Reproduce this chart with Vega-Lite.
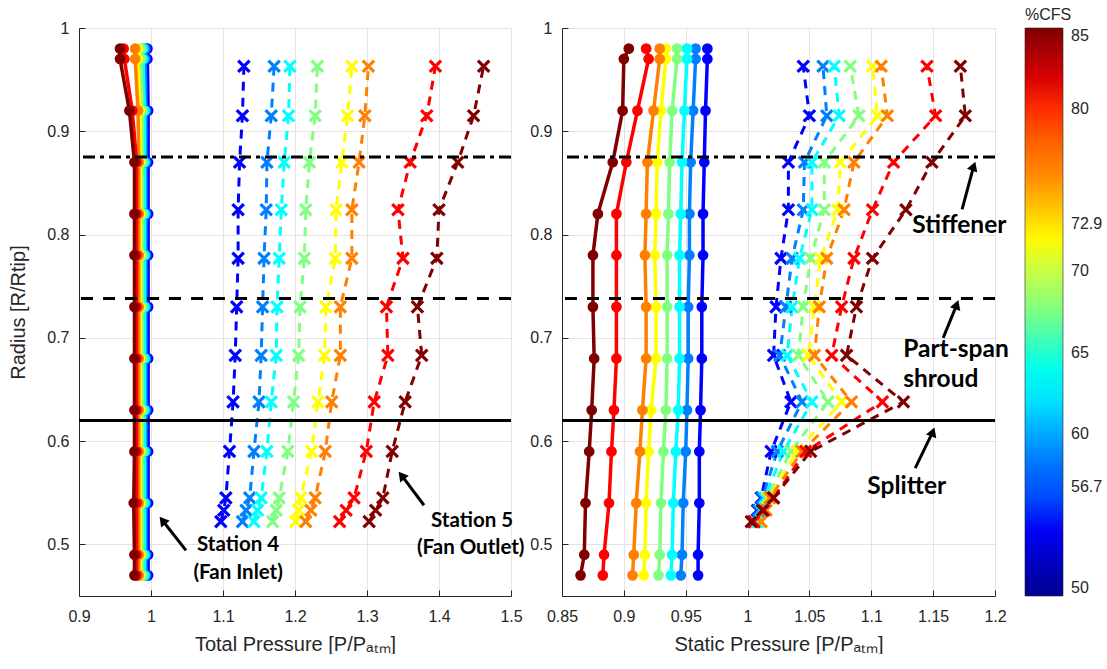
{
  "$schema": "https://vega.github.io/schema/vega-lite/v6.json",
  "padding": {"left": 8, "top": 7, "right": 0, "bottom": 0},
  "background": "white",
  "bounds": "flush",
  "spacing": 51,
  "config": {
    "view": {"stroke": null},
    "axis": {
      "domainColor": "#262626", "domainWidth": 1, "tickColor": "#262626", "tickSize": -6,
      "labelFont": "Liberation Sans", "labelFontSize": 16, "labelColor": "#262626",
      "titleFont": "Liberation Sans", "titleFontSize": 20, "titleColor": "#262626", "titleFontWeight": "normal",
      "gridColor": "#e3e3e3", "gridWidth": 1, "labelOverlap": false, "labelFlush": false
    },
    "axisX": {"labelPadding": 18, "titlePadding": 10},
    "axisY": {"labelPadding": 16}
  },
  "datasets": {
    "left": [
      {"c":50,"s":4,"r":0.98,"p":0.995},{"c":50,"s":4,"r":0.97,"p":0.995},{"c":50,"s":4,"r":0.92,"p":0.996},{"c":50,"s":4,"r":0.87,"p":0.996},{"c":50,"s":4,"r":0.82,"p":0.996},{"c":50,"s":4,"r":0.78,"p":0.996},{"c":50,"s":4,"r":0.73,"p":0.996},{"c":50,"s":4,"r":0.68,"p":0.996},{"c":50,"s":4,"r":0.63,"p":0.996},{"c":50,"s":4,"r":0.59,"p":0.996},{"c":50,"s":4,"r":0.54,"p":0.996},{"c":50,"s":4,"r":0.49,"p":0.996},{"c":50,"s":4,"r":0.47,"p":0.996},
      {"c":56.7,"s":4,"r":0.98,"p":0.992},{"c":56.7,"s":4,"r":0.97,"p":0.992},{"c":56.7,"s":4,"r":0.92,"p":0.993},{"c":56.7,"s":4,"r":0.87,"p":0.993},{"c":56.7,"s":4,"r":0.82,"p":0.993},{"c":56.7,"s":4,"r":0.78,"p":0.993},{"c":56.7,"s":4,"r":0.73,"p":0.993},{"c":56.7,"s":4,"r":0.68,"p":0.993},{"c":56.7,"s":4,"r":0.63,"p":0.993},{"c":56.7,"s":4,"r":0.59,"p":0.993},{"c":56.7,"s":4,"r":0.54,"p":0.993},{"c":56.7,"s":4,"r":0.49,"p":0.993},{"c":56.7,"s":4,"r":0.47,"p":0.993},
      {"c":60,"s":4,"r":0.98,"p":0.989},{"c":60,"s":4,"r":0.97,"p":0.989},{"c":60,"s":4,"r":0.92,"p":0.991},{"c":60,"s":4,"r":0.87,"p":0.991},{"c":60,"s":4,"r":0.82,"p":0.991},{"c":60,"s":4,"r":0.78,"p":0.991},{"c":60,"s":4,"r":0.73,"p":0.991},{"c":60,"s":4,"r":0.68,"p":0.991},{"c":60,"s":4,"r":0.63,"p":0.991},{"c":60,"s":4,"r":0.59,"p":0.991},{"c":60,"s":4,"r":0.54,"p":0.991},{"c":60,"s":4,"r":0.49,"p":0.991},{"c":60,"s":4,"r":0.47,"p":0.991},
      {"c":65,"s":4,"r":0.98,"p":0.986},{"c":65,"s":4,"r":0.97,"p":0.986},{"c":65,"s":4,"r":0.92,"p":0.988},{"c":65,"s":4,"r":0.87,"p":0.988},{"c":65,"s":4,"r":0.82,"p":0.988},{"c":65,"s":4,"r":0.78,"p":0.988},{"c":65,"s":4,"r":0.73,"p":0.988},{"c":65,"s":4,"r":0.68,"p":0.988},{"c":65,"s":4,"r":0.63,"p":0.988},{"c":65,"s":4,"r":0.59,"p":0.988},{"c":65,"s":4,"r":0.54,"p":0.988},{"c":65,"s":4,"r":0.49,"p":0.988},{"c":65,"s":4,"r":0.47,"p":0.988},
      {"c":70,"s":4,"r":0.98,"p":0.982},{"c":70,"s":4,"r":0.97,"p":0.982},{"c":70,"s":4,"r":0.92,"p":0.985},{"c":70,"s":4,"r":0.87,"p":0.985},{"c":70,"s":4,"r":0.82,"p":0.985},{"c":70,"s":4,"r":0.78,"p":0.985},{"c":70,"s":4,"r":0.73,"p":0.985},{"c":70,"s":4,"r":0.68,"p":0.985},{"c":70,"s":4,"r":0.63,"p":0.985},{"c":70,"s":4,"r":0.59,"p":0.985},{"c":70,"s":4,"r":0.54,"p":0.985},{"c":70,"s":4,"r":0.49,"p":0.985},{"c":70,"s":4,"r":0.47,"p":0.985},
      {"c":72.9,"s":4,"r":0.98,"p":0.978},{"c":72.9,"s":4,"r":0.97,"p":0.978},{"c":72.9,"s":4,"r":0.92,"p":0.982},{"c":72.9,"s":4,"r":0.87,"p":0.983},{"c":72.9,"s":4,"r":0.82,"p":0.983},{"c":72.9,"s":4,"r":0.78,"p":0.983},{"c":72.9,"s":4,"r":0.73,"p":0.983},{"c":72.9,"s":4,"r":0.68,"p":0.983},{"c":72.9,"s":4,"r":0.63,"p":0.983},{"c":72.9,"s":4,"r":0.59,"p":0.983},{"c":72.9,"s":4,"r":0.54,"p":0.983},{"c":72.9,"s":4,"r":0.49,"p":0.983},{"c":72.9,"s":4,"r":0.47,"p":0.983},
      {"c":80,"s":4,"r":0.98,"p":0.962},{"c":80,"s":4,"r":0.97,"p":0.963},{"c":80,"s":4,"r":0.92,"p":0.974},{"c":80,"s":4,"r":0.87,"p":0.98},{"c":80,"s":4,"r":0.82,"p":0.98},{"c":80,"s":4,"r":0.78,"p":0.98},{"c":80,"s":4,"r":0.73,"p":0.98},{"c":80,"s":4,"r":0.68,"p":0.98},{"c":80,"s":4,"r":0.63,"p":0.98},{"c":80,"s":4,"r":0.59,"p":0.98},{"c":80,"s":4,"r":0.54,"p":0.98},{"c":80,"s":4,"r":0.49,"p":0.98},{"c":80,"s":4,"r":0.47,"p":0.98},
      {"c":85,"s":4,"r":0.98,"p":0.957},{"c":85,"s":4,"r":0.97,"p":0.957},{"c":85,"s":4,"r":0.92,"p":0.97},{"c":85,"s":4,"r":0.87,"p":0.977},{"c":85,"s":4,"r":0.82,"p":0.977},{"c":85,"s":4,"r":0.78,"p":0.977},{"c":85,"s":4,"r":0.73,"p":0.977},{"c":85,"s":4,"r":0.68,"p":0.977},{"c":85,"s":4,"r":0.63,"p":0.977},{"c":85,"s":4,"r":0.59,"p":0.977},{"c":85,"s":4,"r":0.54,"p":0.976},{"c":85,"s":4,"r":0.49,"p":0.977},{"c":85,"s":4,"r":0.47,"p":0.977},
      {"c":50,"s":5,"r":0.963,"p":1.129},{"c":50,"s":5,"r":0.915,"p":1.127},{"c":50,"s":5,"r":0.87,"p":1.123},{"c":50,"s":5,"r":0.824,"p":1.121},{"c":50,"s":5,"r":0.777,"p":1.121},{"c":50,"s":5,"r":0.73,"p":1.119},{"c":50,"s":5,"r":0.683,"p":1.117},{"c":50,"s":5,"r":0.638,"p":1.114},{"c":50,"s":5,"r":0.59,"p":1.109},{"c":50,"s":5,"r":0.545,"p":1.104},{"c":50,"s":5,"r":0.533,"p":1.101},{"c":50,"s":5,"r":0.522,"p":1.097},
      {"c":56.7,"s":5,"r":0.963,"p":1.171},{"c":56.7,"s":5,"r":0.915,"p":1.167},{"c":56.7,"s":5,"r":0.87,"p":1.161},{"c":56.7,"s":5,"r":0.824,"p":1.16},{"c":56.7,"s":5,"r":0.777,"p":1.157},{"c":56.7,"s":5,"r":0.73,"p":1.155},{"c":56.7,"s":5,"r":0.683,"p":1.153},{"c":56.7,"s":5,"r":0.638,"p":1.15},{"c":56.7,"s":5,"r":0.59,"p":1.143},{"c":56.7,"s":5,"r":0.545,"p":1.137},{"c":56.7,"s":5,"r":0.533,"p":1.132},{"c":56.7,"s":5,"r":0.522,"p":1.127},
      {"c":60,"s":5,"r":0.963,"p":1.193},{"c":60,"s":5,"r":0.915,"p":1.191},{"c":60,"s":5,"r":0.87,"p":1.185},{"c":60,"s":5,"r":0.824,"p":1.181},{"c":60,"s":5,"r":0.777,"p":1.178},{"c":60,"s":5,"r":0.73,"p":1.175},{"c":60,"s":5,"r":0.683,"p":1.174},{"c":60,"s":5,"r":0.638,"p":1.167},{"c":60,"s":5,"r":0.59,"p":1.161},{"c":60,"s":5,"r":0.545,"p":1.153},{"c":60,"s":5,"r":0.533,"p":1.148},{"c":60,"s":5,"r":0.522,"p":1.143},
      {"c":65,"s":5,"r":0.963,"p":1.231},{"c":65,"s":5,"r":0.915,"p":1.228},{"c":65,"s":5,"r":0.87,"p":1.22},{"c":65,"s":5,"r":0.824,"p":1.215},{"c":65,"s":5,"r":0.777,"p":1.213},{"c":65,"s":5,"r":0.73,"p":1.207},{"c":65,"s":5,"r":0.683,"p":1.205},{"c":65,"s":5,"r":0.638,"p":1.198},{"c":65,"s":5,"r":0.59,"p":1.19},{"c":65,"s":5,"r":0.545,"p":1.178},{"c":65,"s":5,"r":0.533,"p":1.174},{"c":65,"s":5,"r":0.522,"p":1.169},
      {"c":70,"s":5,"r":0.963,"p":1.279},{"c":70,"s":5,"r":0.915,"p":1.273},{"c":70,"s":5,"r":0.87,"p":1.265},{"c":70,"s":5,"r":0.824,"p":1.257},{"c":70,"s":5,"r":0.777,"p":1.256},{"c":70,"s":5,"r":0.73,"p":1.243},{"c":70,"s":5,"r":0.683,"p":1.241},{"c":70,"s":5,"r":0.638,"p":1.232},{"c":70,"s":5,"r":0.59,"p":1.223},{"c":70,"s":5,"r":0.545,"p":1.208},{"c":70,"s":5,"r":0.533,"p":1.205},{"c":70,"s":5,"r":0.522,"p":1.201},
      {"c":72.9,"s":5,"r":0.963,"p":1.302},{"c":72.9,"s":5,"r":0.915,"p":1.297},{"c":72.9,"s":5,"r":0.87,"p":1.289},{"c":72.9,"s":5,"r":0.824,"p":1.279},{"c":72.9,"s":5,"r":0.777,"p":1.279},{"c":72.9,"s":5,"r":0.73,"p":1.263},{"c":72.9,"s":5,"r":0.683,"p":1.263},{"c":72.9,"s":5,"r":0.638,"p":1.251},{"c":72.9,"s":5,"r":0.59,"p":1.242},{"c":72.9,"s":5,"r":0.545,"p":1.228},{"c":72.9,"s":5,"r":0.533,"p":1.222},{"c":72.9,"s":5,"r":0.522,"p":1.215},
      {"c":80,"s":5,"r":0.963,"p":1.395},{"c":80,"s":5,"r":0.915,"p":1.383},{"c":80,"s":5,"r":0.87,"p":1.36},{"c":80,"s":5,"r":0.824,"p":1.343},{"c":80,"s":5,"r":0.777,"p":1.35},{"c":80,"s":5,"r":0.73,"p":1.327},{"c":80,"s":5,"r":0.683,"p":1.329},{"c":80,"s":5,"r":0.638,"p":1.31},{"c":80,"s":5,"r":0.59,"p":1.299},{"c":80,"s":5,"r":0.545,"p":1.282},{"c":80,"s":5,"r":0.533,"p":1.271},{"c":80,"s":5,"r":0.522,"p":1.262},
      {"c":85,"s":5,"r":0.963,"p":1.462},{"c":85,"s":5,"r":0.915,"p":1.448},{"c":85,"s":5,"r":0.87,"p":1.426},{"c":85,"s":5,"r":0.824,"p":1.4},{"c":85,"s":5,"r":0.777,"p":1.397},{"c":85,"s":5,"r":0.73,"p":1.37},{"c":85,"s":5,"r":0.683,"p":1.376},{"c":85,"s":5,"r":0.638,"p":1.353},{"c":85,"s":5,"r":0.59,"p":1.335},{"c":85,"s":5,"r":0.545,"p":1.322},{"c":85,"s":5,"r":0.533,"p":1.312},{"c":85,"s":5,"r":0.522,"p":1.303}
    ],
    "right": [
      {"c":50,"s":4,"r":0.98,"p":0.9675},{"c":50,"s":4,"r":0.97,"p":0.9675},{"c":50,"s":4,"r":0.92,"p":0.966},{"c":50,"s":4,"r":0.87,"p":0.965},{"c":50,"s":4,"r":0.82,"p":0.964},{"c":50,"s":4,"r":0.78,"p":0.964},{"c":50,"s":4,"r":0.73,"p":0.963},{"c":50,"s":4,"r":0.68,"p":0.963},{"c":50,"s":4,"r":0.63,"p":0.962},{"c":50,"s":4,"r":0.59,"p":0.961},{"c":50,"s":4,"r":0.54,"p":0.961},{"c":50,"s":4,"r":0.49,"p":0.96},{"c":50,"s":4,"r":0.47,"p":0.96},
      {"c":56.7,"s":4,"r":0.98,"p":0.958},{"c":56.7,"s":4,"r":0.97,"p":0.958},{"c":56.7,"s":4,"r":0.92,"p":0.956},{"c":56.7,"s":4,"r":0.87,"p":0.954},{"c":56.7,"s":4,"r":0.82,"p":0.953},{"c":56.7,"s":4,"r":0.78,"p":0.953},{"c":56.7,"s":4,"r":0.73,"p":0.952},{"c":56.7,"s":4,"r":0.68,"p":0.952},{"c":56.7,"s":4,"r":0.63,"p":0.951},{"c":56.7,"s":4,"r":0.59,"p":0.95},{"c":56.7,"s":4,"r":0.54,"p":0.948},{"c":56.7,"s":4,"r":0.49,"p":0.947},{"c":56.7,"s":4,"r":0.47,"p":0.946},
      {"c":60,"s":4,"r":0.98,"p":0.951},{"c":60,"s":4,"r":0.97,"p":0.951},{"c":60,"s":4,"r":0.92,"p":0.949},{"c":60,"s":4,"r":0.87,"p":0.947},{"c":60,"s":4,"r":0.82,"p":0.946},{"c":60,"s":4,"r":0.78,"p":0.945},{"c":60,"s":4,"r":0.73,"p":0.945},{"c":60,"s":4,"r":0.68,"p":0.945},{"c":60,"s":4,"r":0.63,"p":0.944},{"c":60,"s":4,"r":0.59,"p":0.942},{"c":60,"s":4,"r":0.54,"p":0.94},{"c":60,"s":4,"r":0.49,"p":0.939},{"c":60,"s":4,"r":0.47,"p":0.938},
      {"c":65,"s":4,"r":0.98,"p":0.943},{"c":65,"s":4,"r":0.97,"p":0.943},{"c":65,"s":4,"r":0.92,"p":0.939},{"c":65,"s":4,"r":0.87,"p":0.937},{"c":65,"s":4,"r":0.82,"p":0.936},{"c":65,"s":4,"r":0.78,"p":0.935},{"c":65,"s":4,"r":0.73,"p":0.935},{"c":65,"s":4,"r":0.68,"p":0.935},{"c":65,"s":4,"r":0.63,"p":0.934},{"c":65,"s":4,"r":0.59,"p":0.932},{"c":65,"s":4,"r":0.54,"p":0.93},{"c":65,"s":4,"r":0.49,"p":0.929},{"c":65,"s":4,"r":0.47,"p":0.928},
      {"c":70,"s":4,"r":0.98,"p":0.934},{"c":70,"s":4,"r":0.97,"p":0.934},{"c":70,"s":4,"r":0.92,"p":0.93},{"c":70,"s":4,"r":0.87,"p":0.927},{"c":70,"s":4,"r":0.82,"p":0.926},{"c":70,"s":4,"r":0.78,"p":0.925},{"c":70,"s":4,"r":0.73,"p":0.926},{"c":70,"s":4,"r":0.68,"p":0.926},{"c":70,"s":4,"r":0.63,"p":0.922},{"c":70,"s":4,"r":0.59,"p":0.92},{"c":70,"s":4,"r":0.54,"p":0.918},{"c":70,"s":4,"r":0.49,"p":0.917},{"c":70,"s":4,"r":0.47,"p":0.916},
      {"c":72.9,"s":4,"r":0.98,"p":0.929},{"c":72.9,"s":4,"r":0.97,"p":0.929},{"c":72.9,"s":4,"r":0.92,"p":0.924},{"c":72.9,"s":4,"r":0.87,"p":0.919},{"c":72.9,"s":4,"r":0.82,"p":0.918},{"c":72.9,"s":4,"r":0.78,"p":0.917},{"c":72.9,"s":4,"r":0.73,"p":0.918},{"c":72.9,"s":4,"r":0.68,"p":0.918},{"c":72.9,"s":4,"r":0.63,"p":0.915},{"c":72.9,"s":4,"r":0.59,"p":0.913},{"c":72.9,"s":4,"r":0.54,"p":0.91},{"c":72.9,"s":4,"r":0.49,"p":0.908},{"c":72.9,"s":4,"r":0.47,"p":0.907},
      {"c":80,"s":4,"r":0.98,"p":0.918},{"c":80,"s":4,"r":0.97,"p":0.92},{"c":80,"s":4,"r":0.92,"p":0.911},{"c":80,"s":4,"r":0.87,"p":0.902},{"c":80,"s":4,"r":0.82,"p":0.894},{"c":80,"s":4,"r":0.78,"p":0.894},{"c":80,"s":4,"r":0.73,"p":0.894},{"c":80,"s":4,"r":0.68,"p":0.894},{"c":80,"s":4,"r":0.63,"p":0.892},{"c":80,"s":4,"r":0.59,"p":0.89},{"c":80,"s":4,"r":0.54,"p":0.888},{"c":80,"s":4,"r":0.49,"p":0.884},{"c":80,"s":4,"r":0.47,"p":0.883},
      {"c":85,"s":4,"r":0.98,"p":0.904},{"c":85,"s":4,"r":0.97,"p":0.9},{"c":85,"s":4,"r":0.92,"p":0.899},{"c":85,"s":4,"r":0.87,"p":0.891},{"c":85,"s":4,"r":0.82,"p":0.879},{"c":85,"s":4,"r":0.78,"p":0.875},{"c":85,"s":4,"r":0.73,"p":0.875},{"c":85,"s":4,"r":0.68,"p":0.876},{"c":85,"s":4,"r":0.63,"p":0.874},{"c":85,"s":4,"r":0.59,"p":0.872},{"c":85,"s":4,"r":0.54,"p":0.869},{"c":85,"s":4,"r":0.49,"p":0.868},{"c":85,"s":4,"r":0.47,"p":0.865},
      {"c":50,"s":5,"r":0.963,"p":1.045},{"c":50,"s":5,"r":0.915,"p":1.05},{"c":50,"s":5,"r":0.87,"p":1.033},{"c":50,"s":5,"r":0.824,"p":1.033},{"c":50,"s":5,"r":0.777,"p":1.027},{"c":50,"s":5,"r":0.73,"p":1.023},{"c":50,"s":5,"r":0.683,"p":1.021},{"c":50,"s":5,"r":0.638,"p":1.035},{"c":50,"s":5,"r":0.59,"p":1.019},{"c":50,"s":5,"r":0.545,"p":1.011},{"c":50,"s":5,"r":0.533,"p":1.008},{"c":50,"s":5,"r":0.522,"p":1.005},
      {"c":56.7,"s":5,"r":0.963,"p":1.061},{"c":56.7,"s":5,"r":0.915,"p":1.064},{"c":56.7,"s":5,"r":0.87,"p":1.046},{"c":56.7,"s":5,"r":0.824,"p":1.045},{"c":56.7,"s":5,"r":0.777,"p":1.036},{"c":56.7,"s":5,"r":0.73,"p":1.031},{"c":56.7,"s":5,"r":0.683,"p":1.026},{"c":56.7,"s":5,"r":0.638,"p":1.044},{"c":56.7,"s":5,"r":0.59,"p":1.024},{"c":56.7,"s":5,"r":0.545,"p":1.012},{"c":56.7,"s":5,"r":0.533,"p":1.009},{"c":56.7,"s":5,"r":0.522,"p":1.006},
      {"c":60,"s":5,"r":0.963,"p":1.07},{"c":60,"s":5,"r":0.915,"p":1.074},{"c":60,"s":5,"r":0.87,"p":1.052},{"c":60,"s":5,"r":0.824,"p":1.052},{"c":60,"s":5,"r":0.777,"p":1.042},{"c":60,"s":5,"r":0.73,"p":1.036},{"c":60,"s":5,"r":0.683,"p":1.032},{"c":60,"s":5,"r":0.638,"p":1.052},{"c":60,"s":5,"r":0.59,"p":1.029},{"c":60,"s":5,"r":0.545,"p":1.014},{"c":60,"s":5,"r":0.533,"p":1.011},{"c":60,"s":5,"r":0.522,"p":1.008},
      {"c":65,"s":5,"r":0.963,"p":1.083},{"c":65,"s":5,"r":0.915,"p":1.09},{"c":65,"s":5,"r":0.87,"p":1.062},{"c":65,"s":5,"r":0.824,"p":1.062},{"c":65,"s":5,"r":0.777,"p":1.051},{"c":65,"s":5,"r":0.73,"p":1.045},{"c":65,"s":5,"r":0.683,"p":1.041},{"c":65,"s":5,"r":0.638,"p":1.065},{"c":65,"s":5,"r":0.59,"p":1.035},{"c":65,"s":5,"r":0.545,"p":1.016},{"c":65,"s":5,"r":0.533,"p":1.013},{"c":65,"s":5,"r":0.522,"p":1.01},
      {"c":70,"s":5,"r":0.963,"p":1.101},{"c":70,"s":5,"r":0.915,"p":1.105},{"c":70,"s":5,"r":0.87,"p":1.075},{"c":70,"s":5,"r":0.824,"p":1.073},{"c":70,"s":5,"r":0.777,"p":1.059},{"c":70,"s":5,"r":0.73,"p":1.054},{"c":70,"s":5,"r":0.683,"p":1.049},{"c":70,"s":5,"r":0.638,"p":1.076},{"c":70,"s":5,"r":0.59,"p":1.04},{"c":70,"s":5,"r":0.545,"p":1.017},{"c":70,"s":5,"r":0.533,"p":1.014},{"c":70,"s":5,"r":0.522,"p":1.011},
      {"c":72.9,"s":5,"r":0.963,"p":1.108},{"c":72.9,"s":5,"r":0.915,"p":1.113},{"c":72.9,"s":5,"r":0.87,"p":1.086},{"c":72.9,"s":5,"r":0.824,"p":1.078},{"c":72.9,"s":5,"r":0.777,"p":1.064},{"c":72.9,"s":5,"r":0.73,"p":1.058},{"c":72.9,"s":5,"r":0.683,"p":1.054},{"c":72.9,"s":5,"r":0.638,"p":1.084},{"c":72.9,"s":5,"r":0.59,"p":1.044},{"c":72.9,"s":5,"r":0.545,"p":1.018},{"c":72.9,"s":5,"r":0.533,"p":1.015},{"c":72.9,"s":5,"r":0.522,"p":1.011},
      {"c":80,"s":5,"r":0.963,"p":1.145},{"c":80,"s":5,"r":0.915,"p":1.152},{"c":80,"s":5,"r":0.87,"p":1.118},{"c":80,"s":5,"r":0.824,"p":1.101},{"c":80,"s":5,"r":0.777,"p":1.086},{"c":80,"s":5,"r":0.73,"p":1.076},{"c":80,"s":5,"r":0.683,"p":1.068},{"c":80,"s":5,"r":0.638,"p":1.109},{"c":80,"s":5,"r":0.59,"p":1.047},{"c":80,"s":5,"r":0.545,"p":1.021},{"c":80,"s":5,"r":0.533,"p":1.013},{"c":80,"s":5,"r":0.522,"p":1.005},
      {"c":85,"s":5,"r":0.963,"p":1.172},{"c":85,"s":5,"r":0.915,"p":1.176},{"c":85,"s":5,"r":0.87,"p":1.149},{"c":85,"s":5,"r":0.824,"p":1.128},{"c":85,"s":5,"r":0.777,"p":1.101},{"c":85,"s":5,"r":0.73,"p":1.088},{"c":85,"s":5,"r":0.683,"p":1.08},{"c":85,"s":5,"r":0.638,"p":1.126},{"c":85,"s":5,"r":0.59,"p":1.051},{"c":85,"s":5,"r":0.545,"p":1.021},{"c":85,"s":5,"r":0.533,"p":1.012},{"c":85,"s":5,"r":0.522,"p":1.003}
    ],
    "refs": [
      {"r":0.875,"name":"Stiffener"},
      {"r":0.738,"name":"Part-span shroud"},
      {"r":0.62,"name":"Splitter"}
    ],
    "textL": [
      {"p":1.121,"r":0.499,"t":"Station 4"},
      {"p":1.121,"r":0.472,"t":"(Fan Inlet)"},
      {"p":1.446,"r":0.523,"t":"Station 5"},
      {"p":1.444,"r":0.496,"t":"(Fan Outlet)"}
    ],
    "arrowL": [
      {"p":1.0486,"r":0.4942,"p2":1.016,"r2":0.5231},
      {"p":1.3792,"r":0.5379,"p2":1.348,"r2":0.5668}
    ],
    "textR": [
      {"p":1.1331,"r":0.8078,"t":"Stiffener"},
      {"p":1.1258,"r":0.6883,"t":"Part-span"},
      {"p":1.1258,"r":0.6592,"t":"shroud"},
      {"p":1.0968,"r":0.5553,"t":"Splitter"}
    ],
    "arrowR": [
      {"p":1.1734,"r":0.8243,"p2":1.1828,"r2":0.8662},
      {"p":1.1581,"r":0.7,"p2":1.1691,"r2":0.7322},
      {"p":1.1355,"r":0.5738,"p2":1.1497,"r2":0.6089}
    ]
  },
  "hconcat": [
    {
      "width": 432,
      "height": 568,
      "layer": [
        {
          "data": {"name": "left"},
          "transform": [{"filter": "datum.s == 4"}],
          "mark": {"type": "line", "strokeWidth": 3.5, "point": {"filled": true, "size": 115, "opacity": 1}},
          "encoding": {
            "x": {"field": "p", "type": "quantitative", "title": "Total Pressure [P/Pₐₜₘ]", "scale": {"domain": [0.9, 1.5], "nice": false, "zero": false},
                  "axis": {"values": [0.9, 1.0, 1.1, 1.2, 1.3, 1.4, 1.5], "format": ".3~g"}},
            "y": {"field": "r", "type": "quantitative", "title": "Radius [R/Rtip]", "scale": {"domain": [0.45, 1], "nice": false, "zero": false},
                  "axis": {"values": [0.5, 0.6, 0.7, 0.8, 0.9, 1.0], "format": ".3~g", "titlePadding": 18}},
            "color": {"field": "c", "type": "ordinal", "legend": null,
                      "scale": {"domain": [50, 56.7, 60, 65, 70, 72.9, 80, 85], "range": ["#0000ff", "#0080ff", "#00ffff", "#80ff80", "#ffff00", "#ff8000", "#ff0000", "#800000"]}},
            "order": {"field": "r", "type": "quantitative"}
          }
        },
        {
          "data": {"name": "left"},
          "transform": [{"filter": "datum.s == 5"}],
          "mark": {"type": "line", "strokeWidth": 3, "strokeDash": [9, 7], "point": {"shape": "M-1,-1L1,1M-1,1L1,-1", "filled": false, "strokeWidth": 3.2, "size": 130, "opacity": 1}},
          "encoding": {
            "x": {"field": "p", "type": "quantitative", "title": "Total Pressure [P/Pₐₜₘ]"},
            "y": {"field": "r", "type": "quantitative", "title": "Radius [R/Rtip]"},
            "color": {"field": "c", "type": "ordinal", "legend": null},
            "order": {"field": "r", "type": "quantitative"}
          }
        },
        {
          "data": {"name": "refs"},
          "transform": [{"filter": "datum.name == 'Stiffener'"}],
          "mark": {"type": "rule", "color": "black", "strokeWidth": 3, "strokeDash": [12, 5, 4, 5]},
          "encoding": {"y": {"field": "r", "type": "quantitative", "title": "Radius [R/Rtip]"}}
        },
        {
          "data": {"name": "refs"},
          "transform": [{"filter": "datum.name == 'Part-span shroud'"}],
          "mark": {"type": "rule", "color": "black", "strokeWidth": 3, "strokeDash": [12, 10]},
          "encoding": {"y": {"field": "r", "type": "quantitative", "title": "Radius [R/Rtip]"}}
        },
        {
          "data": {"name": "refs"},
          "transform": [{"filter": "datum.name == 'Splitter'"}],
          "mark": {"type": "rule", "color": "black", "strokeWidth": 3},
          "encoding": {"y": {"field": "r", "type": "quantitative", "title": "Radius [R/Rtip]"}}
        },
        {
          "data": {"name": "arrowL"},
          "mark": {"type": "rule", "color": "black", "strokeWidth": 3},
          "encoding": {
            "x": {"field": "p", "type": "quantitative", "title": "Total Pressure [P/Pₐₜₘ]"},
            "y": {"field": "r", "type": "quantitative", "title": "Radius [R/Rtip]"},
            "x2": {"field": "p2"},
            "y2": {"field": "r2"}
          }
        },
        {
          "data": {"name": "arrowL"},
          "mark": {"type": "point", "shape": "triangle-up", "filled": true, "color": "black", "opacity": 1, "size": 120, "angle": -38},
          "encoding": {
            "x": {"field": "p2", "type": "quantitative", "title": "Total Pressure [P/Pₐₜₘ]"},
            "y": {"field": "r2", "type": "quantitative", "title": "Radius [R/Rtip]"}
          }
        },
        {
          "data": {"name": "textL"},
          "mark": {"type": "text", "font": "Lato", "fontWeight": "bold", "fontSize": 20.5, "color": "black", "align": "center", "baseline": "middle"},
          "encoding": {
            "x": {"field": "p", "type": "quantitative", "title": "Total Pressure [P/Pₐₜₘ]"},
            "y": {"field": "r", "type": "quantitative", "title": "Radius [R/Rtip]"},
            "text": {"field": "t"}
          }
        }
      ]
    },
    {
      "width": 433,
      "height": 568,
      "layer": [
        {
          "data": {"name": "right"},
          "transform": [{"filter": "datum.s == 4"}],
          "mark": {"type": "line", "strokeWidth": 3.5, "point": {"filled": true, "size": 115, "opacity": 1}},
          "encoding": {
            "x": {"field": "p", "type": "quantitative", "title": "Static Pressure [P/Pₐₜₘ]", "scale": {"domain": [0.85, 1.2], "nice": false, "zero": false},
                  "axis": {"values": [0.85, 0.9, 0.95, 1.0, 1.05, 1.1, 1.15, 1.2], "format": ".3~g"}},
            "y": {"field": "r", "type": "quantitative", "title": null, "scale": {"domain": [0.45, 1], "nice": false, "zero": false},
                  "axis": {"values": [0.5, 0.6, 0.7, 0.8, 0.9, 1.0], "format": ".3~g"}},
            "color": {"field": "c", "type": "ordinal", "legend": null,
                      "scale": {"domain": [50, 56.7, 60, 65, 70, 72.9, 80, 85], "range": ["#0000ff", "#0080ff", "#00ffff", "#80ff80", "#ffff00", "#ff8000", "#ff0000", "#800000"]}},
            "order": {"field": "r", "type": "quantitative"}
          }
        },
        {
          "data": {"name": "right"},
          "transform": [{"filter": "datum.s == 5"}],
          "mark": {"type": "line", "strokeWidth": 3, "strokeDash": [9, 7], "point": {"shape": "M-1,-1L1,1M-1,1L1,-1", "filled": false, "strokeWidth": 3.2, "size": 130, "opacity": 1}},
          "encoding": {
            "x": {"field": "p", "type": "quantitative", "title": "Static Pressure [P/Pₐₜₘ]"},
            "y": {"field": "r", "type": "quantitative", "title": null},
            "color": {"field": "c", "type": "ordinal", "legend": null},
            "order": {"field": "r", "type": "quantitative"}
          }
        },
        {
          "data": {"name": "right"},
          "transform": [{"filter": "datum.s == 4"}],
          "mark": {"type": "point", "opacity": 0, "filled": true},
          "encoding": {
            "x": {"field": "p", "type": "quantitative", "title": "Static Pressure [P/Pₐₜₘ]"},
            "y": {"field": "r", "type": "quantitative", "title": null},
            "fill": {"field": "c", "type": "quantitative",
                     "scale": {"domain": [50, 54.375, 58.75, 63.125, 67.5, 71.875, 76.25, 80.625, 85],
                               "range": ["#00008f", "#0000ff", "#0080ff", "#00ffff", "#80ff80", "#ffff00", "#ff8000", "#ff0000", "#800000"]},
                     "legend": {"orient": "none", "legendX": 946, "legendY": -21, "direction": "vertical",
                                "gradientLength": 568, "gradientThickness": 38, "title": "%CFS",
                                "titleFont": "Liberation Sans", "titleFontSize": 16, "titleFontWeight": "normal", "titleColor": "#262626", "titlePadding": 5,
                                "labelFont": "Liberation Sans", "labelFontSize": 16, "labelColor": "#262626", "labelOffset": 8, "labelAlign": "left",
                                "values": [50, 56.7, 60, 65, 70, 72.9, 80, 85], "format": ".3~g", "labelOverlap": false,
                                "gradientStrokeColor": "#262626", "gradientStrokeWidth": 0.6}}
          }
        },
        {
          "data": {"name": "refs"},
          "transform": [{"filter": "datum.name == 'Stiffener'"}],
          "mark": {"type": "rule", "color": "black", "strokeWidth": 3, "strokeDash": [12, 5, 4, 5]},
          "encoding": {"y": {"field": "r", "type": "quantitative", "title": null}}
        },
        {
          "data": {"name": "refs"},
          "transform": [{"filter": "datum.name == 'Part-span shroud'"}],
          "mark": {"type": "rule", "color": "black", "strokeWidth": 3, "strokeDash": [12, 10]},
          "encoding": {"y": {"field": "r", "type": "quantitative", "title": null}}
        },
        {
          "data": {"name": "refs"},
          "transform": [{"filter": "datum.name == 'Splitter'"}],
          "mark": {"type": "rule", "color": "black", "strokeWidth": 3},
          "encoding": {"y": {"field": "r", "type": "quantitative", "title": null}}
        },
        {
          "data": {"name": "arrowR"},
          "mark": {"type": "rule", "color": "black", "strokeWidth": 3},
          "encoding": {
            "x": {"field": "p", "type": "quantitative", "title": "Static Pressure [P/Pₐₜₘ]"},
            "y": {"field": "r", "type": "quantitative", "title": null},
            "x2": {"field": "p2"},
            "y2": {"field": "r2"}
          }
        },
        {
          "data": {"name": "arrowR"},
          "mark": {"type": "point", "shape": "triangle-up", "filled": true, "color": "black", "opacity": 1, "size": 120, "angle": 20},
          "encoding": {
            "x": {"field": "p2", "type": "quantitative", "title": "Static Pressure [P/Pₐₜₘ]"},
            "y": {"field": "r2", "type": "quantitative", "title": null}
          }
        },
        {
          "data": {"name": "textR"},
          "mark": {"type": "text", "font": "Lato", "fontWeight": "bold", "fontSize": 24.5, "color": "black", "align": "left", "baseline": "middle"},
          "encoding": {
            "x": {"field": "p", "type": "quantitative", "title": "Static Pressure [P/Pₐₜₘ]"},
            "y": {"field": "r", "type": "quantitative", "title": null},
            "text": {"field": "t"}
          }
        }
      ]
    }
  ]
}
